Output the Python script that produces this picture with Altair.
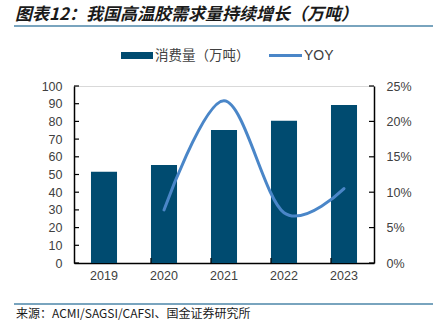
import altair as alt
import pandas as pd

years = ["2019", "2020", "2021", "2022", "2023"]
consumption = [51.6, 55.4, 75.1, 80.4, 89.3]
yoy_years = ["2020", "2021", "2022", "2023"]
yoy = [0.075, 0.229, 0.071, 0.105]
left_ticks = [0, 10, 20, 30, 40, 50, 60, 70, 80, 90, 100]
right_ticks = [0, 0.05, 0.10, 0.15, 0.20, 0.25]
boundary_years = ["2020", "2021", "2022", "2023"]

title_text = "图表12：我国高温胶需求量持续增长（万吨）"
source_text = "来源：ACMI/SAGSI/CAFSI、国金证券研究所"
legend_bar = "消费量（万吨）"
legend_line = "YOY"

BAR = "#004B70"
LINE = "#4A86C8"
RULE = "#4C86A8"
LAB = "#404040"
FONT = "Liberation Sans"
CJK = "Noto Sans CJK SC"

W, H = 300, 177

bars_df = pd.DataFrame({"year": years, "value": consumption})
yoy_df = pd.DataFrame({"year": yoy_years, "yoy": yoy})
lt_df = pd.DataFrame({"t": left_ticks})
rt_df = pd.DataFrame({"t": right_ticks})
xb_df = pd.DataFrame({"year": boundary_years})

xenc = alt.X("year:O", sort=years, scale=alt.Scale(domain=years, paddingInner=0.566, paddingOuter=0.283),
             axis=alt.Axis(title=None, ticks=False, tickSize=0, domainColor="black", domainWidth=1.5,
                           labelFont=FONT, labelFontSize=12.5, labelColor=LAB, labelPadding=6,
                           labelAngle=0, grid=False))

lscale = alt.Scale(domain=[0, 100], nice=False, zero=True)
rscale = alt.Scale(domain=[0, 0.25], nice=False, zero=True)

laxis = alt.Axis(title=None, values=left_ticks, ticks=False, tickSize=0, domainColor="black",
                 domainWidth=1.5, labelFont=FONT, labelFontSize=12.5, labelColor=LAB,
                 labelPadding=12, grid=True, gridColor="#D9D9D9",
                 gridOpacity={"condition": {"test": "datum.value == 100", "value": 1}, "value": 0})
raxis = alt.Axis(title=None, orient="right", values=right_ticks, format=".0%", ticks=False, tickSize=0,
                 domainColor="black", domainWidth=1.5, labelFont=FONT, labelFontSize=12.5,
                 labelColor=LAB, labelPadding=12, grid=False)

bars = alt.Chart(bars_df).mark_bar(color=BAR).encode(
    x=xenc,
    y=alt.Y("value:Q", scale=lscale, axis=laxis, title=None),
)
lticks = alt.Chart(lt_df).mark_rule(color="black", strokeWidth=1.2).encode(
    y=alt.Y("t:Q", scale=lscale, axis=laxis, title=None), x=alt.value(0), x2=alt.value(5))
left = alt.layer(bars, lticks)

line = alt.Chart(yoy_df).mark_line(color=LINE, strokeWidth=3, interpolate="cardinal", strokeCap="round").encode(
    x=alt.X("year:O", sort=years, scale=alt.Scale(domain=years)),
    y=alt.Y("yoy:Q", scale=rscale, axis=raxis, title=None),
)
rticks = alt.Chart(rt_df).mark_rule(color="black", strokeWidth=1.2).encode(
    y=alt.Y("t:Q", scale=rscale, axis=raxis, title=None), x=alt.value(W - 5), x2=alt.value(W))
right = alt.layer(line, rticks)

xticks = alt.Chart(xb_df).mark_rule(color="black", strokeWidth=1.2).encode(
    x=alt.X("year:O", sort=years, bandPosition=0, scale=alt.Scale(domain=years)),
    y=alt.value(H), y2=alt.value(H - 5))

def label(txt, x, y, size, font, color, weight="normal", style="normal", align="left"):
    return alt.Chart(pd.DataFrame({"t": [txt]})).mark_text(
        align=align, baseline="middle", fontSize=size, font=font, color=color,
        fontWeight=weight, fontStyle=style).encode(text="t:N", x=alt.value(x), y=alt.value(y))

def hline(x1, x2, y, color, width):
    return alt.Chart(pd.DataFrame({"a": [0]})).mark_rule(color=color, strokeWidth=width).encode(
        x=alt.value(x1), x2=alt.value(x2), y=alt.value(y))

OX, OY = 74, 86
deco = [
    label(title_text, 15 - OX, 15 - OY, 17, CJK, "#1a1a1a", weight="bold", style="italic"),
    hline(14 - OX, 433 - OX, 26 - OY, RULE, 1.5),
    hline(14 - OX, 433 - OX, 304 - OY, RULE, 1.5),
    label(source_text, 16 - OX, 314 - OY, 12, CJK, "#1a1a1a"),
    alt.Chart(pd.DataFrame({"a": [0]})).mark_rect(color=BAR).encode(
        x=alt.value(121 - OX), x2=alt.value(153 - OX), y=alt.value(52 - OY), y2=alt.value(59 - OY)),
    label(legend_bar, 155 - OX, 56 - OY, 13.5, CJK, LAB),
    hline(269 - OX, 302 - OX, 55.5 - OY, LINE, 3),
    label(legend_line, 304 - OX, 56 - OY, 14, FONT, LAB),
]

chart = alt.layer(left, right, xticks, *deco).resolve_scale(y="independent").properties(
    width=W, height=H,
    autosize=alt.AutoSizeParams(type="none"),
    padding={"left": OX, "top": OY, "right": 433 - OX - W, "bottom": 321 - OY - H},
).configure_view(stroke=None).configure(background="white")

chart.save("out.html", embed_options={"renderer": "svg", "actions": False})
